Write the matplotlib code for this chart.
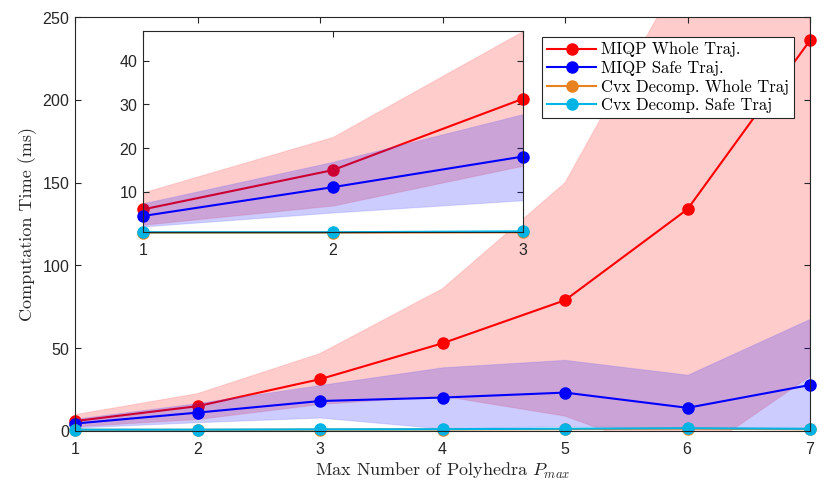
import numpy as np
import matplotlib.pyplot as plt

# ---- data ----
p_max = [1, 2, 3, 4, 5, 6, 7]

miqp_whole = [6.0, 15.0, 31.3, 53.0, 79.0, 134.0, 236.0]
miqp_whole_hi = [9.9, 22.6, 46.8, 86.0, 150.0, 283.0, 420.0]
miqp_whole_lo = [2.5, 6.9, 16.0, 21.0, 9.0, -18.0, 33.0]

miqp_safe = [4.5, 11.1, 18.1, 20.2, 23.2, 14.0, 27.8]
miqp_safe_hi = [7.4, 16.9, 27.8, 38.5, 43.0, 34.0, 67.8]
miqp_safe_lo = [2.1, 5.3, 8.1, 1.5, 3.0, 2.0, 2.0]

cvx_whole = [0.7, 0.7, 0.8, 0.9, 1.1, 1.4, 1.0]
cvx_safe = [0.8, 0.8, 1.0, 1.1, 1.4, 1.7, 1.3]

labels = ["MIQP Whole Traj.", "MIQP Safe Traj.",
          "Cvx Decomp. Whole Traj", "Cvx Decomp. Safe Traj"]
colors = ["#ff0000", "#0000ff", "#e8821e", "#00b4e6"]

plt.rcParams["mathtext.fontset"] = "cm"
plt.rcParams["axes.formatter.use_mathtext"] = True
tick_font = "Liberation Sans"
serif = "cmr10"
axcol = "#262626"


def draw(ax, n):
    x = p_max[:n]
    handles = []
    # red band + line first, blue band drawn over it (like the original)
    ax.fill_between(x, miqp_whole_lo[:n], miqp_whole_hi[:n], color="#ff0000",
                    alpha=0.2, edgecolor="#ff6060", linewidth=0.8, zorder=1)
    h, = ax.plot(x, miqp_whole[:n], "-o", color=colors[0], lw=1.5, ms=8,
                 label=labels[0], clip_on=False, zorder=2)
    handles.append(h)
    ax.fill_between(x, miqp_safe_lo[:n], miqp_safe_hi[:n], color="#0000ff",
                    alpha=0.2, edgecolor="#6060ff", linewidth=0.8, zorder=3)
    for s, c, lab in zip([miqp_safe, cvx_whole, cvx_safe], colors[1:], labels[1:]):
        h, = ax.plot(x, s[:n], "-o", color=c, lw=1.5, ms=8, label=lab,
                     clip_on=False, zorder=4)
        handles.append(h)
    return handles


def style(ax):
    ax.tick_params(direction="in", top=True, right=True, labelsize=11.5,
                   colors=axcol, length=4)
    ax.tick_params(axis="x", pad=7)
    for lab in ax.get_xticklabels() + ax.get_yticklabels():
        lab.set_fontfamily(tick_font)
    for sp in ax.spines.values():
        sp.set_color(axcol)
        sp.set_zorder(5)


fig = plt.figure(figsize=(8.3, 4.92), dpi=100)
ax = fig.add_axes([0.0904, 0.124, 0.8855, 0.841])
handles = draw(ax, 7)
ax.set_xlim(1, 7)
ax.set_ylim(0, 250)
ax.set_xticks(p_max)
ax.set_yticks([0, 50, 100, 150, 200, 250])
style(ax)
ax.set_xlabel("Max Number of Polyhedra $P_{max}$", fontfamily=serif, fontsize=13,
              color=axcol, labelpad=3)
ax.set_ylabel("Computation Time (ms)", fontfamily=serif, fontsize=13, color=axcol)

leg = ax.legend(handles=handles, loc="upper right", bbox_to_anchor=(0.978, 0.952),
                prop={"family": serif, "size": 12}, fancybox=False, framealpha=1,
                edgecolor=axcol, handlelength=2.9, borderpad=0.3, labelspacing=0.2,
                handletextpad=0.3, borderaxespad=0)
leg.get_frame().set_linewidth(0.8)
leg.set_zorder(10)

# ---- inset ----
ins = fig.add_axes([0.172, 0.528, 0.458, 0.409])
draw(ins, 3)
ins.set_xlim(1, 3)
ins.set_ylim(0.8, 46.8)
ins.set_xticks([1, 2, 3])
ins.set_yticks([10, 20, 30, 40])
style(ins)
ins.set_zorder(6)

fig.savefig("out.png", dpi=100)
